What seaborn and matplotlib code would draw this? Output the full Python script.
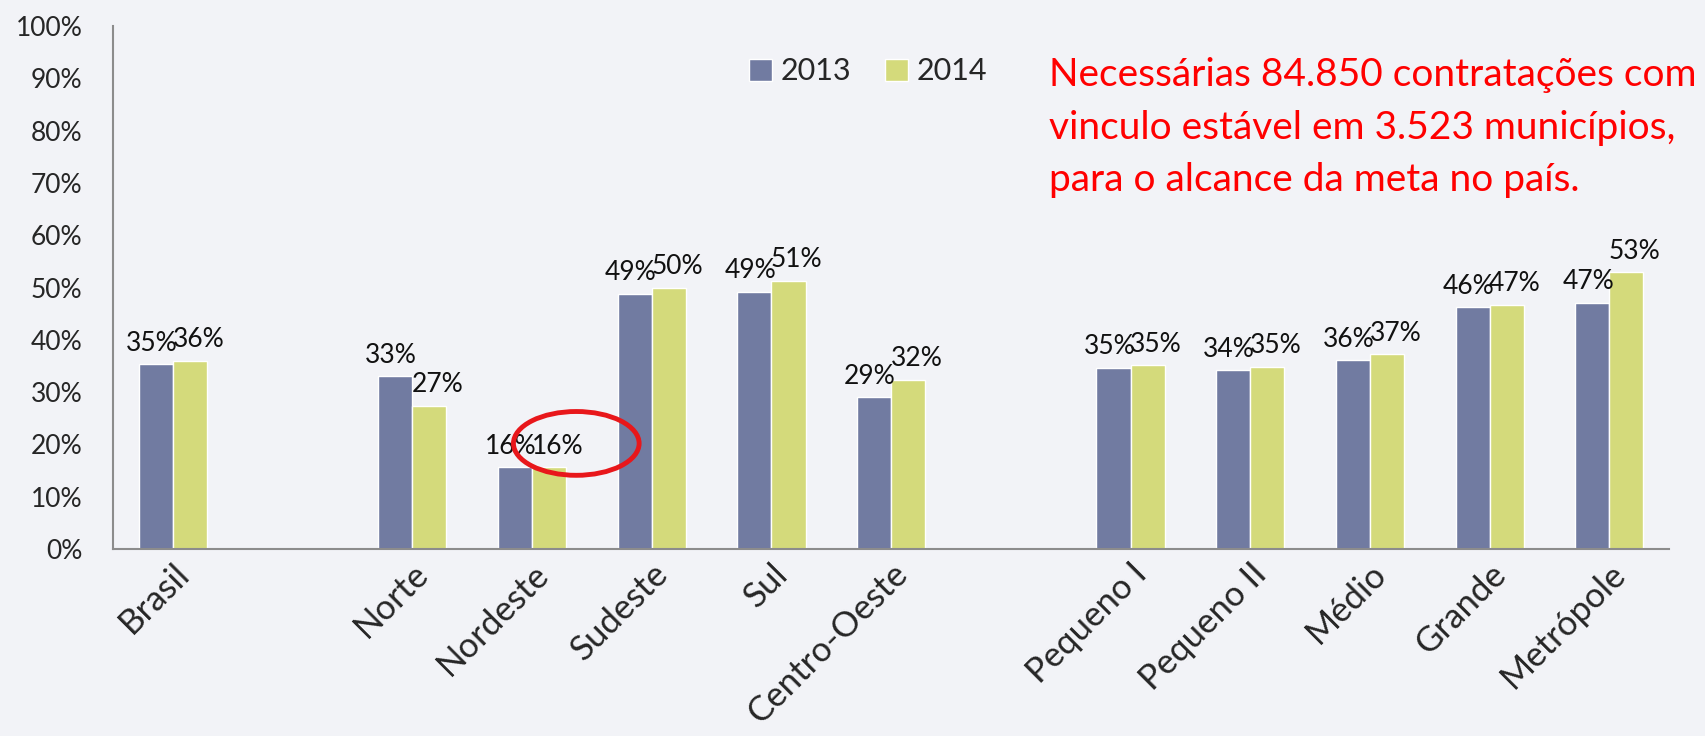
# load libraries
import seaborn as sns
import matplotlib.pyplot as plt
import pandas as pd
import numpy as np
from matplotlib.patches import Ellipse, Patch

# chart data (percent), blank slots keep the gaps of the original chart
categories = ['Brasil', '', 'Norte', 'Nordeste', 'Sudeste', 'Sul', 'Centro-Oeste',
              ' ', 'Pequeno I', 'Pequeno II', 'Médio', 'Grande', 'Metrópole']
values_2013 = [35.3, None, 33.0, 15.6, 48.8, 49.2, 29.1, None, 34.7, 34.2, 36.1, 46.3, 47.1]
values_2014 = [36.0, None, 27.4, 15.7, 50.0, 51.3, 32.4, None, 35.1, 34.9, 37.3, 46.7, 53.0]
years = ['2013', '2014']

note = "Necessárias 84.850 contratações com\nvinculo estável em 3.523 municípios,\npara o alcance da meta no país."

bg = '#F2F3F7'
palette = {'2013': '#717BA1', '2014': '#D4DA7B'}

rows = []
for cat, v13, v14 in zip(categories, values_2013, values_2014):
    if v13 is not None:
        rows.append({'cat': cat, 'year': '2013', 'value': v13})
        rows.append({'cat': cat, 'year': '2014', 'value': v14})
df = pd.DataFrame(rows)

sns.set_style('white')
plt.rcParams['font.family'] = ['Lato', 'DejaVu Sans']

fig = plt.figure(figsize=(17.05, 7.36), dpi=100, facecolor=bg)
ax = fig.add_axes([0.0663, 0.254, 0.9127, 0.7106])
ax.set_facecolor(bg)

sns.barplot(data=df, x='cat', y='value', hue='year', order=categories,
            hue_order=years, palette=palette, width=0.57, ax=ax,
            legend=False, errorbar=None, saturation=1)

# value labels, nudged apart a little like the original
shifts = [-3, 6]
for cont, dx in zip(ax.containers, shifts):
    for bar in cont:
        h = bar.get_height()
        if np.isnan(h):
            continue
        ax.annotate(f'{h:.0f}%', (bar.get_x() + bar.get_width() / 2, h),
                    xytext=(dx, 6), textcoords='offset points',
                    ha='center', va='bottom', fontsize=19, color='#111111')

# y axis
ax.set_ylim(0, 100)
ax.set_yticks(np.arange(0, 101, 10))
ax.set_yticklabels([f'{t}%' for t in range(0, 101, 10)], fontsize=19)
ax.tick_params(axis='y', length=8, width=1.2, color='#8C8C8C', pad=14)

# x axis: labels at centres, tick marks at slot borders
ax.set_xlim(-0.5, len(categories) - 0.5)
ax.set_xticks(range(len(categories)))
ax.set_xticklabels(categories, rotation=45, ha='right', va='top',
                   rotation_mode='anchor', fontsize=25)
ax.set_xticks(np.arange(-0.5, len(categories), 1), minor=True)
ax.tick_params(axis='x', which='major', length=0, pad=6)
ax.tick_params(axis='x', which='minor', length=10, width=1.2, color='#8C8C8C')
ax.set_xlabel(None)
ax.set_ylabel(None)

ax.spines[['top', 'right']].set_visible(False)
for s in ['left', 'bottom']:
    ax.spines[s].set_color('#8C8C8C')
    ax.spines[s].set_linewidth(1.5)

# red circle around Nordeste 2014 label
ax.add_patch(Ellipse((3.37, 20.2), 1.05, 12.2, fill=False, edgecolor='#E8171B',
                     linewidth=3.5, clip_on=False, zorder=5))

# legend
handles = [Patch(facecolor=palette[y], label=y) for y in years]
fig.legend(handles=handles, loc='center left', bbox_to_anchor=(0.423, 0.903),
           ncol=2, frameon=False, fontsize=22, handlelength=0.75, handleheight=0.75,
           handletextpad=0.3, columnspacing=1.1)

# annotation text
fig.text(0.615, 0.922, note, color='#FF0000', fontsize=28, ha='left', va='top',
         linespacing=1.57)

plt.savefig('out.png', dpi=100, facecolor=bg)
